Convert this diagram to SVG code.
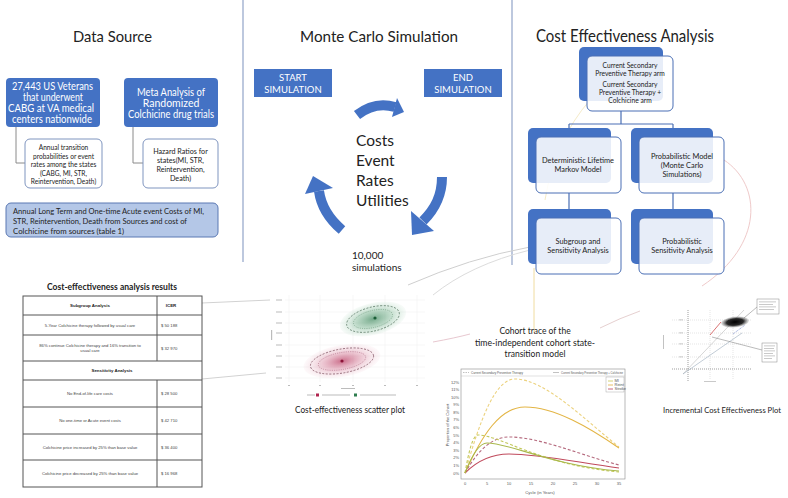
<svg xmlns="http://www.w3.org/2000/svg" width="788" height="498" viewBox="0 0 788 498">
<defs>
<style>
.t{font-family:Lato,"Open Sans","Liberation Sans",sans-serif;fill:#222}
.w{fill:#fff}
.blue{fill:#4472C4}
.back{fill:#4472C4}
.front{fill:#fff;fill-opacity:0.87;stroke:#4a6fb5;stroke-width:1}
.tb{font-family:"Liberation Sans",Arial,sans-serif;font-size:4.2px;fill:#444}
.tbb{font-family:"Liberation Sans",Arial,sans-serif;font-size:4.4px;fill:#222;font-weight:bold}
.grid{stroke:#ececec;stroke-width:0.5}
.ph{fill:#bcbcbc}
.ax{font-family:"Liberation Sans",Arial,sans-serif;font-size:4px;fill:#555}
.conn{fill:none;stroke:#8a8a8a;stroke-width:1}
.arr{fill:none;stroke:#4472C4;stroke-width:10}
</style>
<radialGradient id="gG"><stop offset="0" stop-color="#2e7d4f" stop-opacity="0.95"/><stop offset="0.5" stop-color="#5fa57a" stop-opacity="0.6"/><stop offset="1" stop-color="#9fcfb0" stop-opacity="0.1"/></radialGradient>
<radialGradient id="gP"><stop offset="0" stop-color="#b0244f" stop-opacity="0.95"/><stop offset="0.5" stop-color="#cf6b8a" stop-opacity="0.55"/><stop offset="1" stop-color="#e8b0c0" stop-opacity="0.1"/></radialGradient>
<radialGradient id="gK"><stop offset="0" stop-color="#000"/><stop offset="0.6" stop-color="#111" stop-opacity="0.9"/><stop offset="1" stop-color="#666" stop-opacity="0.15"/></radialGradient>
</defs>
<rect width="788" height="498" fill="#fff"/>

<!-- separators -->
<line x1="243" y1="0" x2="243" y2="262" stroke="#a7b6d3" stroke-width="1.5"/>
<line x1="512" y1="0" x2="512" y2="265" stroke="#a7b6d3" stroke-width="1.5"/>

<!-- faint decorative connectors -->
<g id="connectors" fill="none">
<path d="M408,285 Q470,258 530,247" stroke="#cfcfcf" stroke-width="1"/>
<path d="M433,295 Q470,265 530,250" stroke="#dcdcdc" stroke-width="1"/>
<path d="M202,303 L270,300" stroke="#d2d2d2" stroke-width="1"/>
<path d="M202,379 L266,373" stroke="#d2d2d2" stroke-width="1"/>
<path d="M433,342 Q455,338 470,334" stroke="#e8c8d0" stroke-width="1"/>
<path d="M724,160 C762,185 764,245 702,286" stroke="#efcaca" stroke-width="1"/>
<path d="M600,328 Q620,318 640,311" stroke="#e6d0d0" stroke-width="1"/>
<line x1="534" y1="268" x2="534" y2="333" stroke="#f0dca0" stroke-width="1"/>
<path d="M590,100 Q555,140 545,200" stroke="#f5ebc8" stroke-width="1"/>
<path d="M16,127 V163 H25" class="conn"/>
<path d="M133,127 V163 H143" class="conn"/>
<path d="M621,111 V124 M569,124 H673 M569,124 V137 M673,124 V137" stroke="#4a6fb5" stroke-width="1.2"/>
<path d="M569,193 V218 M673,193 V218" stroke="#4a6fb5" stroke-width="1.2"/>
</g>

<!-- Data Source -->
<text class="t" font-size="16" x="73" y="42" textLength="79" lengthAdjust="spacingAndGlyphs">Data Source</text>
<g id="veterans">
<rect x="6" y="78" width="94" height="49" rx="4" class="blue"/>
<text class="t w" font-size="10.5" x="12" y="90" textLength="81" lengthAdjust="spacingAndGlyphs">27,443 US Veterans</text>
<text class="t w" font-size="10.5" x="23" y="101" textLength="60" lengthAdjust="spacingAndGlyphs">that underwent</text>
<text class="t w" font-size="10.5" x="8" y="112" textLength="86" lengthAdjust="spacingAndGlyphs">CABG at VA medical</text>
<text class="t w" font-size="10.5" x="12" y="123" textLength="80" lengthAdjust="spacingAndGlyphs">centers nationwide</text>
</g>
<g id="meta">
<rect x="124" y="78" width="94" height="49" rx="4" class="blue"/>
<text class="t w" font-size="10.5" x="137" y="96" textLength="68" lengthAdjust="spacingAndGlyphs">Meta Analysis of</text>
<text class="t w" font-size="10.5" x="171" y="107" text-anchor="middle">Randomized</text>
<text class="t w" font-size="10.5" x="128" y="118" textLength="86" lengthAdjust="spacingAndGlyphs">Colchicine drug trials</text>
</g>
<g id="transition">
<rect x="25" y="139" width="77" height="49" rx="5" fill="#fff" stroke="#7f95bf" stroke-width="1"/>
<text class="t" font-size="6.6" text-anchor="middle"><tspan x="63.5" y="150">Annual transition</tspan><tspan x="63.5" y="158.5">probabilities or event</tspan><tspan x="63.5" y="167">rates among the states</tspan><tspan x="63.5" y="175.5">(CABG, MI, STR,</tspan><tspan x="63.5" y="184">Reintervention, Death)</tspan></text>
</g>
<g id="hazard">
<rect x="143" y="139" width="75" height="49" rx="5" fill="#fff" stroke="#7f95bf" stroke-width="1"/>
<text class="t" font-size="7.2" text-anchor="middle"><tspan x="180.5" y="154">Hazard Ratios for</tspan><tspan x="180.5" y="163">states(MI, STR,</tspan><tspan x="180.5" y="172">Reintervention,</tspan><tspan x="180.5" y="181">Death)</tspan></text>
</g>
<g id="costs">
<rect x="6" y="203" width="212" height="34" rx="5" fill="#b4c7e7" stroke="#5a78b3" stroke-width="1"/>
<text class="t" font-size="7.8" x="13" y="214" textLength="191" lengthAdjust="spacingAndGlyphs">Annual Long Term and One-time Acute event Costs of MI,</text>
<text class="t" font-size="7.8" x="13" y="224" textLength="174" lengthAdjust="spacingAndGlyphs">STR, Reintervention, Death from Sources and cost of</text>
<text class="t" font-size="7.8" x="13" y="234">Colchicine from sources (table 1)</text>
</g>

<!-- Monte Carlo -->
<text class="t" font-size="16" x="300" y="42" textLength="158" lengthAdjust="spacingAndGlyphs">Monte Carlo Simulation</text>
<g id="start">
<rect x="254" y="69" width="78" height="28" class="blue"/>
<text class="t w" font-size="9.5" text-anchor="middle"><tspan x="293" y="81">START</tspan><tspan x="293" y="93">SIMULATION</tspan></text>
</g>
<g id="end">
<rect x="424" y="69" width="78" height="28" class="blue"/>
<text class="t w" font-size="9.5" text-anchor="middle"><tspan x="463" y="81">END</tspan><tspan x="463" y="93">SIMULATION</tspan></text>
</g>
<g id="cycle-arrows">
<path d="M357,115 Q375,101 395,107" class="arr" stroke-width="9"/>
<polygon points="397,98 404,112 392,117" class="blue"/>
<path d="M442,177 C442,196 435,209 423,221" class="arr"/>
<polygon points="411,211 434,231 412,235" class="blue"/>
<path d="M342,230 Q322,213 319,191" class="arr"/>
<polygon points="305,194 333,188 313,176" class="blue"/>
</g>
<g id="params">
<text class="t" font-size="15.5"><tspan x="356" y="146">Costs</tspan><tspan x="356" y="166">Event</tspan><tspan x="356" y="186">Rates</tspan><tspan x="356" y="206">Utilities</tspan></text>
</g>
<text class="t" font-size="10"><tspan x="352" y="259">10,000</tspan><tspan x="352" y="271">simulations</tspan></text>

<!-- CEA -->
<text class="t" font-size="17" x="536" y="42" textLength="178" lengthAdjust="spacingAndGlyphs">Cost Effectiveness Analysis</text>
<g id="arms">
<rect x="579" y="47" width="84" height="54" rx="5" class="back"/>
<rect x="587" y="56" width="86" height="55" rx="5" class="front"/>
<text class="t" font-size="6.7" text-anchor="middle"><tspan x="630" y="68">Current Secondary</tspan><tspan x="630" y="76">Preventive Therapy arm</tspan><tspan x="630" y="87">Current Secondary</tspan><tspan x="630" y="95">Preventive Therapy +</tspan><tspan x="630" y="103">Colchicine arm</tspan></text>
</g>
<g id="deterministic">
<rect x="528" y="128" width="83" height="55" rx="5" class="back"/>
<rect x="536" y="137" width="85" height="56" rx="5" class="front"/>
<text class="t" font-size="7.4" text-anchor="middle"><tspan x="578" y="163">Deterministic Lifetime</tspan><tspan x="578" y="172">Markov Model</tspan></text>
</g>
<g id="probabilistic">
<rect x="631" y="128" width="82" height="55" rx="5" class="back"/>
<rect x="639" y="137" width="85" height="56" rx="5" class="front"/>
<text class="t" font-size="7.4" text-anchor="middle"><tspan x="682" y="159">Probabilistic Model</tspan><tspan x="682" y="168">(Monte Carlo</tspan><tspan x="682" y="177">Simulations)</tspan></text>
</g>
<g id="subgroup">
<rect x="528" y="209" width="83" height="55" rx="5" class="back"/>
<rect x="536" y="218" width="85" height="56" rx="5" class="front"/>
<text class="t" font-size="7.4" text-anchor="middle"><tspan x="578" y="244">Subgroup and</tspan><tspan x="578" y="253">Sensitivity Analysis</tspan></text>
</g>
<g id="psa">
<rect x="631" y="209" width="82" height="55" rx="5" class="back"/>
<rect x="639" y="218" width="85" height="56" rx="5" class="front"/>
<text class="t" font-size="7.4" text-anchor="middle"><tspan x="682" y="244">Probabilistic</tspan><tspan x="682" y="253">Sensitivity Analysis</tspan></text>
</g>

<!-- Table -->
<g id="results-table">
<text class="t" font-size="9.5" font-weight="bold" x="47" y="290" textLength="130" lengthAdjust="spacingAndGlyphs">Cost-effectiveness analysis results</text>
<rect x="23" y="296" width="179" height="191" fill="#fff" stroke="#555" stroke-width="1"/>
<path d="M23,315 H202 M23,335 H202 M23,361 H202 M23,380 H202 M23,407 H202 M23,434 H202 M23,460 H202 M157,296 V361 M157,380 V487" stroke="#555" stroke-width="1" fill="none"/>
<text class="tbb" x="90" y="307" text-anchor="middle">Subgroup Analysis</text>
<text class="tbb" x="171" y="307" text-anchor="middle">ICER</text>
<text class="tb" x="90" y="326.5" text-anchor="middle">5-Year Colchicine therapy followed by usual care</text>
<text class="tb" x="161" y="326.5">$ 50 188</text>
<text class="tb" text-anchor="middle"><tspan x="90" y="346.5">86% continue Colchicine therapy and 16% transition to</tspan><tspan x="90" y="352">usual care</tspan></text>
<text class="tb" x="161" y="349.5">$ 32 970</text>
<text class="tbb" x="112" y="372" text-anchor="middle">Sensitivity Analysis</text>
<text class="tb" x="90" y="395" text-anchor="middle">No End-of-life care costs</text>
<text class="tb" x="161" y="395">$ 28 500</text>
<text class="tb" x="90" y="422" text-anchor="middle">No one-time or Acute event costs</text>
<text class="tb" x="161" y="422">$ 42 710</text>
<text class="tb" x="90" y="448.5" text-anchor="middle">Colchicine price increased by 25% than base value</text>
<text class="tb" x="161" y="448.5">$ 36 400</text>
<text class="tb" x="90" y="475" text-anchor="middle">Colchicine price decreased by 25% than base value</text>
<text class="tb" x="161" y="475">$ 16 968</text>
</g>

<!-- Scatter plot -->
<g id="scatter-plot">
<path d="M289,295 V382 M320,295 V382 M353,295 V382 M385,295 V382 M417,295 V382 M285,300 H425 M285,312 H425 M285,323 H425 M285,333 H425 M285,345 H425 M285,356 H425 M285,367 H425 M285,378 H425" class="grid"/>
<g class="ph">
<rect x="276" y="299.5" width="6" height="1"/><rect x="276" y="311.5" width="6" height="1"/><rect x="276" y="322.5" width="6" height="1"/><rect x="276" y="332.5" width="6" height="1"/><rect x="276" y="344.5" width="6" height="1"/><rect x="276" y="355.5" width="6" height="1"/><rect x="276" y="366.5" width="6" height="1"/><rect x="276" y="377.5" width="6" height="1"/>
<rect x="271" y="330" width="1.2" height="10"/>
<rect x="288" y="385" width="2" height="1"/><rect x="319" y="385" width="2" height="1"/><rect x="352" y="385" width="2" height="1"/><rect x="384" y="385" width="2" height="1"/><rect x="416" y="385" width="2" height="1"/>
<rect x="341" y="388" width="14" height="1"/>
<rect x="307" y="394.5" width="8" height="1"/><rect x="322" y="394.5" width="28" height="1"/><rect x="360" y="394.5" width="36" height="1"/>
</g>
<rect x="316" y="393.5" width="3" height="3" fill="#b0244f"/>
<rect x="354" y="393.5" width="3" height="3" fill="#2e7d4f"/>
<ellipse cx="373" cy="319" rx="34" ry="16" transform="rotate(-14 373 319)" fill="url(#gG)" opacity="0.7"/>
<ellipse cx="373" cy="319" rx="27" ry="12" transform="rotate(-14 373 319)" fill="none" stroke="#4f6f5a" stroke-width="0.7" stroke-dasharray="2 1.5"/>
<ellipse cx="373" cy="319" rx="20" ry="8.5" transform="rotate(-14 373 319)" fill="none" stroke="#5b8a6b" stroke-width="0.5" stroke-dasharray="1 1.2"/>
<circle cx="375" cy="318" r="1.6" fill="#1b5e37"/>
<ellipse cx="342" cy="361" rx="39" ry="16" transform="rotate(-10 342 361)" fill="url(#gP)" opacity="0.7"/>
<ellipse cx="342" cy="361" rx="32" ry="12" transform="rotate(-10 342 361)" fill="none" stroke="#7a4a5a" stroke-width="0.7" stroke-dasharray="2 1.5"/>
<ellipse cx="342" cy="361" rx="24" ry="8.5" transform="rotate(-10 342 361)" fill="none" stroke="#a05570" stroke-width="0.5" stroke-dasharray="1 1.2"/>
<circle cx="342" cy="361" r="1.6" fill="#8c1438"/>
<text class="t" font-size="9.5" x="295" y="413" textLength="110" lengthAdjust="spacingAndGlyphs">Cost-effectiveness scatter plot</text>
</g>

<!-- Cohort trace -->
<g id="cohort-trace">
<text class="t" font-size="8.5" x="535" y="334" text-anchor="middle">Cohort trace of the</text>
<text class="t" font-size="8.5" x="475" y="346" textLength="120" lengthAdjust="spacingAndGlyphs">time-independent cohort state-</text>
<text class="t" font-size="8.5" x="535" y="357" text-anchor="middle">transition model</text>
<rect x="461" y="369" width="164" height="110" fill="#fff" stroke="#8a8a8a" stroke-width="0.6"/>
<line x1="461" y1="376" x2="625" y2="376" stroke="#b0b0b0" stroke-width="0.4"/>
<line x1="463" y1="372.5" x2="469" y2="372.5" stroke="#999" stroke-width="0.6" stroke-dasharray="1.5 1"/>
<text class="ax" font-size="2.6" x="471" y="373.5" textLength="52" lengthAdjust="spacingAndGlyphs">Current Secondary Preventive Therapy</text>
<line x1="553" y1="372.5" x2="559" y2="372.5" stroke="#999" stroke-width="0.6"/>
<text class="ax" font-size="2.6" x="561" y="373.5" textLength="62" lengthAdjust="spacingAndGlyphs">Current Secondary Preventive Therapy + Colchicine</text>
<rect x="606" y="377" width="18" height="15" fill="#fff" stroke="#999" stroke-width="0.4"/>
<line x1="608" y1="381" x2="613" y2="381" stroke="#c8c850" stroke-width="0.8"/>
<line x1="608" y1="385" x2="613" y2="385" stroke="#e0b040" stroke-width="0.8"/>
<line x1="608" y1="389" x2="613" y2="389" stroke="#b8405a" stroke-width="0.8"/>
<text class="ax" font-size="3" x="614.5" y="382">MI</text>
<text class="ax" font-size="3" x="614.5" y="386">Reint</text>
<text class="ax" font-size="3" x="614.5" y="390">Stroke</text>
<g class="ax" text-anchor="end">
<text x="459" y="474.5">0%</text><text x="459" y="466.9">1%</text><text x="459" y="459.3">2%</text><text x="459" y="451.8">3%</text><text x="459" y="444.2">4%</text><text x="459" y="436.6">5%</text><text x="459" y="429">6%</text><text x="459" y="421.4">7%</text><text x="459" y="413.8">8%</text><text x="459" y="406.3">9%</text><text x="459" y="398.7">10%</text><text x="459" y="391.1">11%</text><text x="459" y="383.5">12%</text>
</g>
<g class="ax" text-anchor="middle">
<text x="465" y="485">0</text><text x="487" y="485">5</text><text x="509" y="485">10</text><text x="531" y="485">15</text><text x="553" y="485">20</text><text x="575" y="485">25</text><text x="597" y="485">30</text><text x="619" y="485">35</text>
<text x="540" y="494" font-size="4.2">Cycle (in Years)</text>
</g>
<text class="ax" font-size="3.6" transform="translate(449 425) rotate(-90)" text-anchor="middle">Proportion of the Cohort</text>
<g fill="none" stroke-width="1.1">
<path d="M465,473 C480,420 495,379 515,379 C545,379 585,420 619,447" stroke="#ecd27e" stroke-dasharray="3 2"/>
<path d="M465,473 C482,435 500,407 525,407 C555,407 590,428 619,448" stroke="#e3b545"/>
<path d="M465,473 C478,450 492,437 509,437 C540,437 580,455 619,465" stroke="#b56a7e" stroke-dasharray="3 2"/>
<path d="M465,473 C478,460 492,454 509,454 C540,454 580,463 619,468" stroke="#c04a5c"/>
<path d="M465,473 C469,450 473,435 478,435 C500,435 540,465 619,472" stroke="#c3c85a" stroke-dasharray="3 2"/>
<path d="M465,473 C472,455 479,443 487,443 C510,443 550,465 619,471" stroke="#a9b84a"/>
</g>
</g>

<!-- ICE plot -->
<g id="ice-plot">
<g stroke="#c8c8c8" stroke-width="0.5" stroke-dasharray="1 1" fill="none">
<path d="M710,310 V380 M733,310 V380 M672,320 H752 M672,333 H752 M672,344 H752 M672,357 H752"/>
</g>
<g stroke="#777" stroke-width="0.7" stroke-dasharray="1 1" fill="none">
<path d="M688,310 V381 M672,369 H752"/>
</g>
<line x1="683" y1="374" x2="744" y2="310" stroke="#bbb" stroke-width="0.6"/>
<line x1="683" y1="374" x2="742" y2="333" stroke="#9ab" stroke-width="0.6"/>
<line x1="710" y1="335" x2="721" y2="322" stroke="#d05050" stroke-width="0.8"/>
<line x1="733" y1="334" x2="745" y2="325" stroke="#6a7fc8" stroke-width="0.7" stroke-dasharray="1 0.8"/>
<ellipse cx="735" cy="322" rx="14" ry="5.5" transform="rotate(-6 735 322)" fill="url(#gK)"/>
<line x1="744" y1="318" x2="757" y2="307" stroke="#777" stroke-width="0.5"/>
<line x1="712" y1="337" x2="762" y2="350" stroke="#777" stroke-width="0.5"/>
<rect x="757" y="299" width="22" height="15" fill="#fff" stroke="#888" stroke-width="0.5"/>
<rect x="762" y="343" width="15" height="19" fill="#fff" stroke="#888" stroke-width="0.5"/>
<g class="ph">
<rect x="759" y="301.5" width="17" height="0.8"/><rect x="759" y="304" width="14" height="0.8"/><rect x="759" y="306.5" width="17" height="0.8"/><rect x="759" y="309" width="15" height="0.8"/>
<rect x="764" y="345.5" width="11" height="0.8"/><rect x="764" y="348" width="10" height="0.8"/><rect x="764" y="350.5" width="11" height="0.8"/><rect x="764" y="353" width="9" height="0.8"/><rect x="764" y="355.5" width="11" height="0.8"/><rect x="764" y="358" width="8" height="0.8"/>
<rect x="679" y="319.5" width="4" height="0.8"/><rect x="679" y="332.5" width="4" height="0.8"/><rect x="679" y="343.5" width="4" height="0.8"/><rect x="679" y="356.5" width="4" height="0.8"/>
<rect x="663" y="335" width="0.9" height="14"/>
<rect x="704" y="381" width="12" height="0.8"/>
</g>
<text class="t" font-size="7.6" x="722" y="413" text-anchor="middle">Incremental Cost Effectiveness Plot</text>
</g>
</svg>
